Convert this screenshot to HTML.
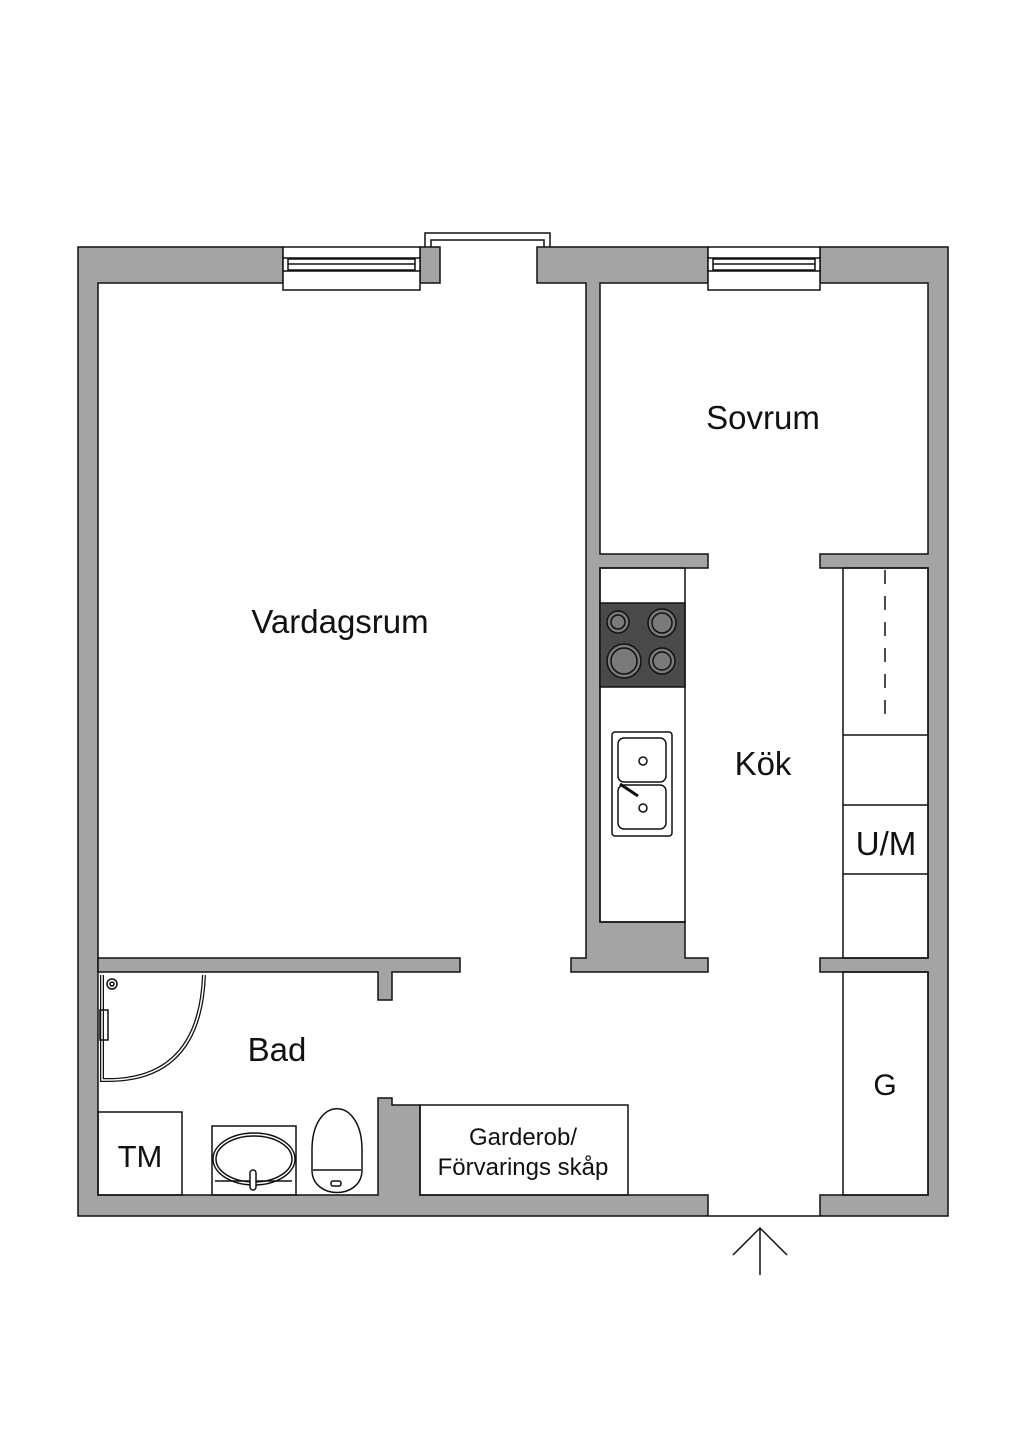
<!DOCTYPE html>
<html><head><meta charset="utf-8"><style>
html,body{margin:0;padding:0;background:#fff;}
svg{display:block}
text{font-family:"Liberation Sans",sans-serif;fill:#111}
</style></head><body>
<svg width="1024" height="1448" viewBox="0 0 1024 1448" xmlns="http://www.w3.org/2000/svg">
<g fill="#a4a4a4" stroke="#111" stroke-width="1.5">
<path d="M78,247 H283 V283 H98 V1195 H378 V1098 H392 V1105 H420 V1195 H708 V1216 H78 Z"/>
<path d="M420,247 H440 V283 H420 Z"/>
<path d="M537,247 H708 V283 H600 V554 H708 V568 H600 V922 H685 V958 H708 V972 H571 V958 H586 V283 H537 Z"/>
<path d="M820,247 H948 V1216 H820 V1195 H928 V972 H820 V958 H928 V568 H820 V554 H928 V283 H820 Z"/>
<path d="M98,958 H460 V972 H392 V1000 H378 V972 H98 Z"/>
</g>
<g fill="none" stroke="#111" stroke-width="1.5">
<rect x="283" y="247" width="137" height="43" fill="#fff"/>
<line x1="283" y1="258" x2="420" y2="258"/><line x1="283" y1="271" x2="420" y2="271"/>
<rect x="288" y="259" width="127" height="11"/><line x1="288" y1="264" x2="415" y2="264"/>
<rect x="708" y="247" width="112" height="43" fill="#fff"/>
<line x1="708" y1="258" x2="820" y2="258"/><line x1="708" y1="271" x2="820" y2="271"/>
<rect x="713" y="259" width="102" height="11"/><line x1="713" y1="264" x2="815" y2="264"/>
<path d="M425,247 V233 H550 V247"/><path d="M431,247 V240 H544 V247"/>
<rect x="600" y="568" width="85" height="354"/>
<rect x="600" y="603" width="85" height="84" fill="#4a4a4a"/>
<g fill="#7a7a7a"><circle cx="618" cy="622" r="11"/><circle cx="662" cy="623" r="14"/><circle cx="624" cy="661" r="17"/><circle cx="662" cy="661" r="13"/></g>
<g><circle cx="618" cy="622" r="7"/><circle cx="662" cy="623" r="10"/><circle cx="624" cy="661" r="13"/><circle cx="662" cy="661" r="9"/></g>
<rect x="612" y="732" width="60" height="104" rx="3"/>
<rect x="618" y="738" width="48" height="44" rx="6"/><rect x="618" y="785" width="48" height="44" rx="6"/>
<circle cx="643" cy="761" r="4"/><circle cx="643" cy="808" r="4"/>
<line x1="620" y1="784" x2="638" y2="796" stroke-width="3"/>
<rect x="843" y="568" width="85" height="390"/>
<line x1="843" y1="735" x2="928" y2="735"/><line x1="843" y1="805" x2="928" y2="805"/><line x1="843" y1="874" x2="928" y2="874"/>
<line x1="885" y1="570" x2="885" y2="722" stroke-dasharray="14,12"/>
<rect x="843" y="972" width="85" height="223"/>
<rect x="98" y="1112" width="84" height="83"/>
<rect x="212" y="1126" width="84" height="69"/>
<ellipse cx="254" cy="1159" rx="41" ry="26"/><ellipse cx="254" cy="1159" rx="38" ry="23"/>
<line x1="215" y1="1181" x2="292" y2="1181"/>
<rect x="250" y="1170" width="6" height="20" rx="3" fill="#fff"/>
<path d="M312,1150 C312,1095 362,1095 362,1150 L362,1170 C362,1200 312,1200 312,1170 Z" fill="#fff"/>
<line x1="313" y1="1170" x2="361" y2="1170"/>
<rect x="331" y="1181" width="10" height="5" rx="2"/>
<path d="M102,975 V1080 H108 Q200,1080 204,975" stroke-width="4"/>
<path d="M102,975 V1080 H108 Q200,1080 204,975" stroke="#fff" stroke-width="1.5"/>
<circle cx="112" cy="984" r="5"/><circle cx="112" cy="984" r="2"/>
<rect x="100" y="1010" width="8" height="30"/>
<rect x="420" y="1105" width="208" height="90"/>
<line x1="708" y1="1216" x2="820" y2="1216"/>
<path d="M733,1255 L760,1228 L787,1255 M760,1228 V1275"/>
</g>
<text x="340" y="633" font-size="33" text-anchor="middle">Vardagsrum</text>
<text x="763" y="429" font-size="33" text-anchor="middle">Sovrum</text>
<text x="763" y="775" font-size="33" text-anchor="middle">Kök</text>
<text x="886" y="855" font-size="33" text-anchor="middle">U/M</text>
<text x="885" y="1095" font-size="30" text-anchor="middle">G</text>
<text x="277" y="1061" font-size="33" text-anchor="middle">Bad</text>
<text x="140" y="1167" font-size="31" text-anchor="middle">TM</text>
<text x="523" y="1145" font-size="24" text-anchor="middle">Garderob/</text>
<text x="523" y="1175" font-size="24" text-anchor="middle">Förvarings skåp</text>
</svg>
</body></html>
